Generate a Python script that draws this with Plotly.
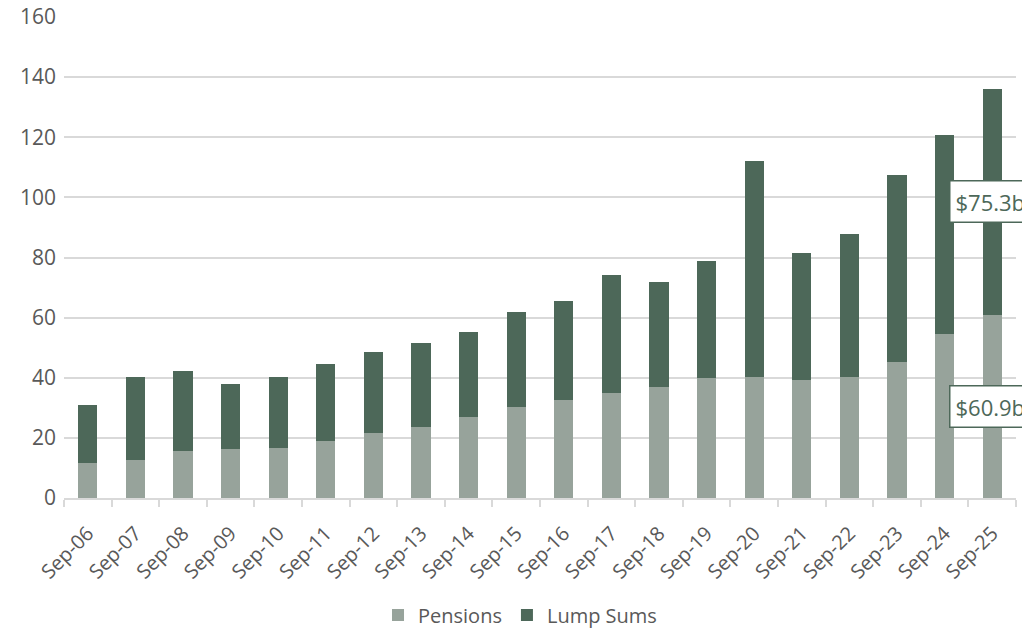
import plotly.graph_objects as go

categories = ["Sep-06", "Sep-07", "Sep-08", "Sep-09", "Sep-10", "Sep-11", "Sep-12", "Sep-13",
              "Sep-14", "Sep-15", "Sep-16", "Sep-17", "Sep-18", "Sep-19", "Sep-20", "Sep-21",
              "Sep-22", "Sep-23", "Sep-24", "Sep-25"]
pensions = [11.8, 12.8, 15.7, 16.4, 16.7, 19.1, 21.7, 23.5, 26.9, 30.4, 32.6, 35.0, 37.0,
            39.9, 40.1, 39.4, 40.4, 45.3, 54.7, 60.9]
totals = [30.8, 40.2, 42.3, 38.0, 40.3, 44.7, 48.5, 51.6, 55.3, 61.9, 65.5, 74.1, 71.8,
          78.8, 112.1, 81.5, 87.8, 107.5, 120.7, 136.2]
lump_sums = [round(t - p, 1) for t, p in zip(totals, pensions)]

tick_vals = [0, 20, 40, 60, 80, 100, 120, 140, 160]
label_texts = ["$75.3b", "$60.9b"]
label_y = [98.5, 30.3]

C_PEN = "#97a39b"
C_LUMP = "#4d6859"
FONT = "Open Sans"

fig = go.Figure()
fig.add_trace(go.Bar(x=categories, y=pensions, name="Pensions", marker_color=C_PEN,
                     marker_line_width=0))
fig.add_trace(go.Bar(x=categories, y=lump_sums, name="Lump Sums", marker_color=C_LUMP,
                     marker_line_width=0))

for txt, yy in zip(label_texts, label_y):
    fig.add_annotation(x=18.09, y=yy, xref="x", yref="y", text=txt, showarrow=False,
                       xanchor="left", yanchor="middle",
                       font=dict(family=FONT, size=22, color=C_LUMP),
                       bgcolor="white", bordercolor=C_LUMP, borderwidth=1.5, borderpad=5)

fig.update_layout(
    width=1022, height=635,
    barmode="stack", bargap=0.6,
    margin=dict(l=64, r=6, t=17, b=137, autoexpand=False),
    plot_bgcolor="white", paper_bgcolor="white",
    font=dict(family=FONT, size=20, color="#595959"),
    showlegend=True,
    legend=dict(orientation="h", x=0.479, xanchor="center", y=-0.243, yanchor="middle",
                font=dict(family=FONT, size=20, color="#595959"), traceorder="normal"),
    xaxis=dict(type="category", range=[-0.5, len(categories) - 0.5], autorange=False,
               tickangle=-45, showgrid=False, showline=True,
               linecolor="#d9d9d9", linewidth=1.5, ticks="outside", tickson="boundaries",
               ticklen=7, tickcolor="#d9d9d9", tickwidth=1.5, automargin=False,
               ticklabelstandoff=14,
               tickfont=dict(family=FONT, size=20, color="#595959")),
    yaxis=dict(range=[0, 160], autorange=False, tickvals=tick_vals, showgrid=True,
               gridcolor="#d9d9d9", gridwidth=1.5, zeroline=False, showline=False, ticks="",
               ticklabelstandoff=7, automargin=False,
               tickfont=dict(family=FONT, size=21, color="#595959")),
)

fig.write_html("out.html")
